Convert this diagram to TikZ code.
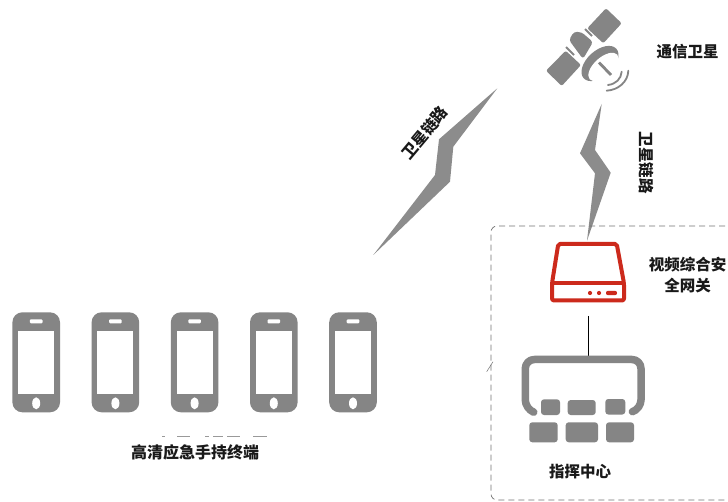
\documentclass[tikz,border=0pt]{standalone}
\usepackage{fontspec}
\newfontfamily\cjk{Noto Sans CJK SC}
\definecolor{icongray}{HTML}{858585}
\definecolor{boltgray}{HTML}{8C8C8C}
\definecolor{gatewayred}{HTML}{CC2A1C}
\tikzset{
  label/.style={font=\cjk\bfseries\fontsize{15.5}{19}\selectfont,text=black!90,inner sep=0pt,align=center},
  bolt/.style={fill=boltgray,draw=none},
  keycap/.style={fill=icongray,draw=none,rounded corners=3pt},
  wave/.style={draw=icongray,line width=1.8pt,line cap=round},
  redline/.style={draw=gatewayred,line width=4pt,line join=round},
  phone/.pic={
    \fill[icongray,rounded corners=10pt] (-23.8,-50) rectangle (23.8,50);
    \fill[white] (-18,-31.6) rectangle (18,31.7);
    \fill[white,rounded corners=1pt] (-6.3,-43) rectangle (6.3,-39);
    \fill[white] (0,41) ellipse (4 and 6);
  }
}
\begin{document}
\begin{tikzpicture}[x=1pt,y=-1pt]
\useasboundingbox (0,0) rectangle (728,502);
\fill[white] (0,0) rectangle (728,502);

% satellite
\fill[icongray,rounded corners=2pt] (606,8.3) -- (621.7,23.3) -- (603.3,43.3) -- (587.3,28.3) -- cycle;
\fill[icongray,rounded corners=2pt] (565.7,50.7) -- (581,65) -- (561.7,86) -- (546,70.7) -- cycle;
\fill[icongray,rounded corners=3pt] (569,40) -- (574,31.7) -- (581.7,32.3) -- (593,42) -- (583,59) -- cycle;
\draw[icongray,line width=2pt] (585,29) -- (592,36);
\draw[icongray,line width=2pt] (566,47) -- (574,55);
\fill[icongray,rotate around={42:(600,63.5)}] (600,63.5) ellipse (22 and 13);
\fill[white,rotate around={42:(603.5,67)}] (603.5,67) ellipse (18.5 and 9.5);
\draw[icongray,line width=2.8pt] (599,62.5) -- (611,75);
\draw[wave] (608,85) .. controls (616,84) and (621,79) .. (621.7,71.7);
\draw[wave] (606.7,90.7) .. controls (618,90) and (628,82) .. (628.3,70.7);

\node[label] (satlabel) at (687.5,51.5) {通信卫星};

% lightning links
\fill[bolt] (601.7,104) -- (595,150) -- (610.7,172.7) -- (587,240.7) -- (595,173.3) -- (580,153.3) -- cycle;
\fill[bolt] (497.3,88.3) -- (453.3,146.7) -- (450,181.7) -- (373.3,255) -- (435,175) -- (439,139.3) -- cycle;
\node[label,rotate=50] (linkleft) at (424.5,133) {卫星链路};
\node[label,rotate=-90] (linkright) at (646.7,163) {卫星链路};

% dashed region
\draw[draw=black!55,line width=0.7pt,dash pattern=on 6pt off 4pt,rounded corners=6pt] (735,226) -- (491,226) -- (491,500) -- (735,500);
\draw[draw=black!55,line width=0.5pt] (486.7,371.7) -- (493,361.7);

% gateway
\draw[redline,rounded corners=2pt] (558.3,243.8) -- (616.7,243.8) -- (624,283.3) -- (624,300.5) -- (552,300.5) -- (552,283.3) -- cycle;
\draw[redline] (552,283.3) -- (624,283.3);
\fill[gatewayred] (590,293) circle (2.1);
\fill[gatewayred] (599,293) circle (2.1);
\fill[gatewayred,rounded corners=2pt] (606,290.8) rectangle (617,295.2);
\node[label] (gwlabel) at (687.5,275) {视频综合安\\[2pt]全网关};
\coordinate (gwout) at (588.3,316);
\coordinate (centerin) at (588.3,356);
\draw[black,line width=1pt] (gwout) -- (centerin);

% command centre
\draw[icongray,line width=7.5pt,line join=round,rounded corners=9pt] (532,411.5) -- (525.3,409) -- (525.3,359.5) -- (641,359.5) -- (641,409) -- (633,411.5);
\fill[keycap] (541,399.3) rectangle (560,415);
\fill[keycap] (567.7,400) rectangle (595.7,415);
\fill[keycap] (605.3,399) rectangle (625.3,414.5);
\fill[keycap] (529.3,422.3) rectangle (557.7,442.3);
\fill[keycap] (565.7,422.3) rectangle (598,442.3);
\fill[keycap] (606,422.3) rectangle (634,442.3);
\node[label] (centerlabel) at (580,471.5) {指挥中心};

% handsets
\foreach \x/\n in {36.2/a,115.4/b,194.6/c,273.8/d,353/e}
  \pic (phone\n) at (\x,362.3) {phone};

% clipped remains of hidden text
\foreach \a/\b in {162/165,177/190,205/209,213/223,227/240,253/267}
  \draw[black!40,line width=0.8pt] (\a,436.8) -- (\b,436.8);
\node[label,font=\cjk\bfseries\fontsize{16}{19}\selectfont] (phonelabel) at (195,452.5) {高清应急手持终端};
\end{tikzpicture}
\end{document}
